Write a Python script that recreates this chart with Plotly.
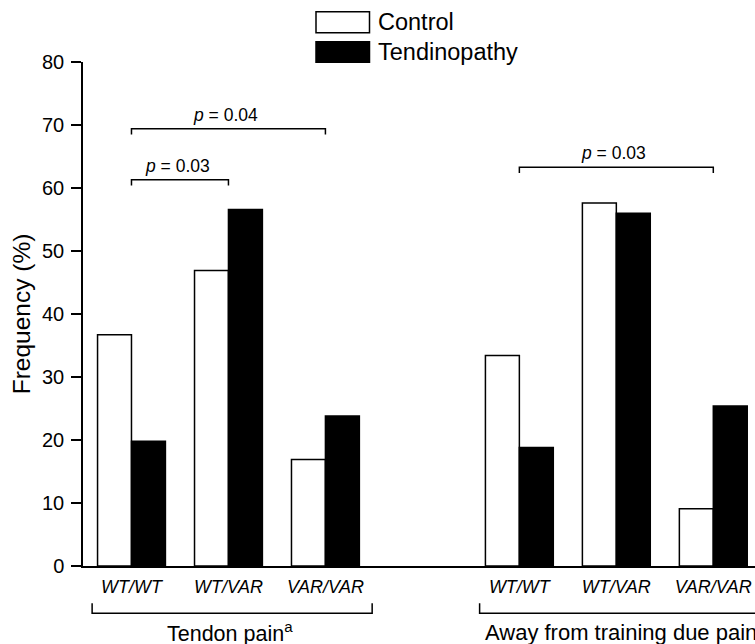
import plotly.graph_objects as go

# ---- data ----
genotypes = ["WT/WT", "WT/VAR", "VAR/VAR", "WT/WT", "WT/VAR", "VAR/VAR"]
positions = [0, 1, 2, 4, 5, 6]
control = [36.7, 46.9, 16.9, 33.4, 57.6, 9.1]
tendinopathy = [19.8, 56.6, 23.8, 18.8, 56.0, 25.4]
y_ticks = [0, 10, 20, 30, 40, 50, 60, 70, 80]
# comparisons: (from position, to position, bracket height, label)
comparisons = [(0, 2, 69.4, "0.04"), (0, 1, 61.3, "0.03"), (4, 6, 63.3, "0.03")]
groups = ["Tendon pain<sup>a</sup>", "Away from training due pain"]

FONT = "Arial, Liberation Sans, sans-serif"
W, H = 755, 644
ML, MR, MT, MB = 83, 0, 62, 78
PW, PH = W - ML - MR, H - MT - MB


def px(xp):
    return (xp - ML) / PW


def py(yp):
    return (H - MB - yp) / PH


fig = go.Figure()
fig.add_trace(go.Bar(
    x=positions, y=control, name="Control",
    marker=dict(color="white", line=dict(color="black", width=1.5)),
))
fig.add_trace(go.Bar(
    x=positions, y=tendinopathy, name="Tendinopathy",
    marker=dict(color="black", line=dict(color="black", width=1.5)),
))

shapes = []
annotations = []
# significance brackets
for x0, x1, yb, lab in comparisons:
    shapes.append(dict(
        type="path", xref="x", yref="y",
        path=f"M {x0},{yb-0.9} L {x0},{yb} L {x1},{yb} L {x1},{yb-0.9}",
        line=dict(color="black", width=1.5),
    ))
    annotations.append(dict(
        x=(x0 + x1) / 2 - 0.03, y=yb, xref="x", yref="y",
        text=f"<i>p</i> = {lab}", showarrow=False,
        yanchor="bottom", yshift=2,
        font=dict(family=FONT, size=17.5, color="black"),
    ))

# group brackets below the axis
group_spans = [(-0.406, 2.482), (3.59, 6.47)]
for (g0, g1), glab in zip(group_spans, groups):
    shapes.append(dict(
        type="path", xref="x", yref="paper",
        path=f"M {g0},{py(603.3)} L {g0},{py(613.3)} L {g1},{py(613.3)} L {g1},{py(603.3)}",
        line=dict(color="black", width=1.5),
    ))
annotations.append(dict(
    x=1.02, y=py(632), xref="x", yref="paper", text=groups[0], showarrow=False,
    xanchor="center", yanchor="middle", font=dict(family=FONT, size=21.5, color="black"),
))
annotations.append(dict(
    x=3.62, y=py(632), xref="x", yref="paper", text=groups[1], showarrow=False,
    xanchor="left", yanchor="middle", font=dict(family=FONT, size=22, color="black"),
))

# manual legend
legend_items = [("Control", "white", 11.7, 32.7), ("Tendinopathy", "black", 41.7, 62.3)]
for name, fill, y0, y1 in legend_items:
    shapes.append(dict(
        type="rect", xref="paper", yref="paper",
        x0=px(316), x1=px(369.5), y0=py(y1), y1=py(y0),
        fillcolor=fill, line=dict(color="black", width=1.5),
    ))
    annotations.append(dict(
        x=px(376), y=py((y0 + y1) / 2), xref="paper", yref="paper",
        text=name, showarrow=False, xanchor="left", yanchor="middle",
        font=dict(family=FONT, size=23.5, color="black"),
    ))

fig.update_layout(
    width=W, height=H,
    margin=dict(l=ML, r=MR, t=MT, b=MB, pad=0),
    paper_bgcolor="white", plot_bgcolor="white",
    barmode="group", bargap=0.3, bargroupgap=0,
    showlegend=False,
    shapes=shapes, annotations=annotations,
    font=dict(family=FONT, color="black"),
    xaxis=dict(
        range=[-0.5, 6.43], tickmode="array", tickvals=positions,
        ticktext=[f"<i>{g}</i>" for g in genotypes],
        showline=True, linecolor="black", linewidth=1.5,
        ticks="", showgrid=False, zeroline=False,
        tickfont=dict(family=FONT, size=18, color="black"),
        ticklabelstandoff=4,
        fixedrange=True,
    ),
    yaxis=dict(
        range=[0, 80], tickmode="array", tickvals=y_ticks,
        showline=True, linecolor="black", linewidth=1.5,
        ticks="outside", ticklen=10, tickwidth=1.5, tickcolor="black",
        showgrid=False, zeroline=False,
        tickfont=dict(family=FONT, size=20, color="black"),
        ticklabelstandoff=3,
        title=dict(text="Frequency (%)", font=dict(family=FONT, size=24.5, color="black"), standoff=4),
        fixedrange=True,
    ),
)

fig.write_html(
    "out.html",
    config={"displayModeBar": False},
    post_script="document.body.style.margin='0';document.body.style.overflow='hidden';",
)
